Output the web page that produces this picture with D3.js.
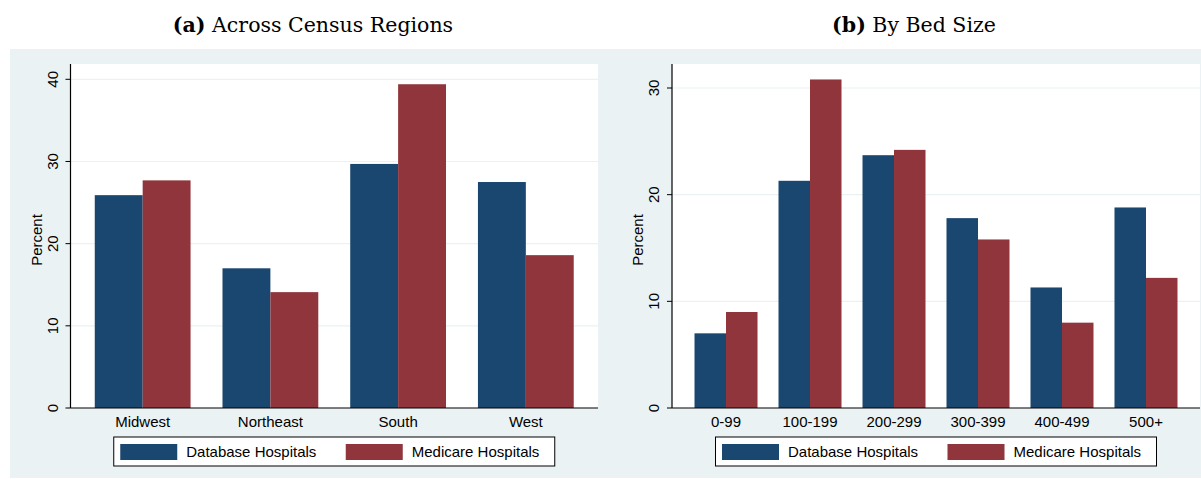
<!DOCTYPE html>
<html>
<head>
<meta charset="utf-8">
<script src="https://cdn.jsdelivr.net/npm/d3@7"></script>
<style>
  body { margin: 0; background: #fff; }
  text { font-family: "Liberation Sans", Arial, sans-serif; fill: #000; }
</style>
</head>
<body>
<div id="chart"></div>
<script>
// data
const regions = ['Midwest', 'Northeast', 'South', 'West'];
const regionDatabase = [25.9, 17.0, 29.7, 27.5];
const regionMedicare = [27.7, 14.1, 39.4, 18.6];

const bedSizes = ['0-99', '100-199', '200-299', '300-399', '400-499', '500+'];
const bedDatabase = [7.0, 21.3, 23.7, 17.8, 11.3, 18.8];
const bedMedicare = [9.0, 30.8, 24.2, 15.8, 8.0, 12.2];

const seriesNames = ['Database Hospitals', 'Medicare Hospitals'];
const regionTicks = [0, 10, 20, 30, 40];
const bedTicks = [0, 10, 20, 30];

const colors = ['#1a476f', '#90353b'];
const bgColor = '#eaf2f3';

const svg = d3.select('#chart').append('svg')
  .attr('width', 1201)
  .attr('height', 479);

function drawPanel(opt) {
  const g = svg.append('g');

  // grey panel background
  g.append('rect')
    .attr('x', opt.panelX0).attr('y', 49)
    .attr('width', opt.panelX1 - opt.panelX0).attr('height', 429)
    .attr('fill', bgColor);

  // title: bold letter + serif text
  const title = g.append('text')
    .attr('x', opt.titleX).attr('y', 32)
    .attr('text-anchor', 'middle')
    .style('font-family', '"DejaVu Serif", "Liberation Serif", serif')
    .style('font-size', '20.5px');
  title.append('tspan').attr('font-weight', 'bold').text(opt.letter);
  title.append('tspan').text(' ' + opt.title);

  const left = opt.plotX0, right = opt.plotX1, top = 64, bottom = 408;

  g.append('rect')
    .attr('x', left).attr('y', top)
    .attr('width', right - left).attr('height', bottom - top)
    .attr('fill', '#fff');

  const y = d3.scaleLinear()
    .domain([0, opt.yMax])
    .range([bottom, opt.yTopPx]);

  const x = d3.scaleBand()
    .domain(opt.categories)
    .range([left, right])
    .paddingInner(0.25)
    .paddingOuter(opt.outer);

  const xs = d3.scaleBand()
    .domain(seriesNames)
    .range([0, x.bandwidth()]);

  // gridlines
  g.selectAll('.grid')
    .data(opt.ticks.filter(d => d > 0))
    .enter().append('line')
    .attr('x1', left).attr('x2', right)
    .attr('y1', d => y(d)).attr('y2', d => y(d))
    .attr('stroke', bgColor).attr('stroke-width', 1.2);

  // bars
  const rows = opt.categories.map((c, i) => ({ cat: c, vals: [opt.s1[i], opt.s2[i]] }));
  const groups = g.selectAll('.grp')
    .data(rows)
    .enter().append('g')
    .attr('transform', d => 'translate(' + x(d.cat) + ',0)');

  groups.selectAll('rect')
    .data(d => d.vals.map((v, j) => ({ name: seriesNames[j], v: v, j: j })))
    .enter().append('rect')
    .attr('x', d => xs(d.name))
    .attr('y', d => y(d.v))
    .attr('width', xs.bandwidth())
    .attr('height', d => bottom - y(d.v))
    .attr('fill', d => colors[d.j]);

  // y axis
  const yAxis = g.append('g')
    .attr('transform', 'translate(' + left + ',0)')
    .call(d3.axisLeft(y).tickValues(opt.ticks).tickSize(5).tickPadding(0).tickFormat(d3.format('d')));
  yAxis.select('.domain').remove();
  yAxis.selectAll('line').attr('stroke', '#000');
  yAxis.selectAll('text')
    .attr('x', 0).attr('dy', null)
    .attr('text-anchor', 'middle')
    .attr('transform', d => 'translate(-13,' + y(d) + ') rotate(-90)')
    .attr('y', 0)
    .style('font-size', '15px')
    .style('font-family', '"Liberation Sans", Arial, sans-serif');
  yAxis.selectAll('.tick').attr('transform', null);
  yAxis.selectAll('.tick line')
    .attr('x2', -5).attr('y1', d => y(d)).attr('y2', d => y(d));

  g.append('line')
    .attr('x1', left).attr('x2', left)
    .attr('y1', top).attr('y2', bottom)
    .attr('stroke', '#000').attr('stroke-width', 1.2);

  // x axis
  const xAxis = g.append('g')
    .attr('transform', 'translate(0,' + bottom + ')')
    .call(d3.axisBottom(x).tickSize(0).tickPadding(0));
  xAxis.select('.domain').remove();
  xAxis.selectAll('text')
    .attr('dy', null).attr('y', 19)
    .style('font-size', '15px')
    .style('font-family', '"Liberation Sans", Arial, sans-serif');

  g.append('line')
    .attr('x1', left).attr('x2', right)
    .attr('y1', bottom).attr('y2', bottom)
    .attr('stroke', '#000').attr('stroke-width', 1.2);

  // y title
  g.append('text')
    .attr('transform', 'translate(' + (left - 29) + ',240) rotate(-90)')
    .attr('text-anchor', 'middle')
    .style('font-size', '15px')
    .text('Percent');

  // legend
  const lx = (left + right) / 2 - 220.5;
  const leg = g.append('g').attr('transform', 'translate(' + lx + ',437)');
  leg.append('rect')
    .attr('width', 441).attr('height', 29)
    .attr('fill', '#fff').attr('stroke', '#000').attr('stroke-width', 1);
  const items = leg.selectAll('.item')
    .data(seriesNames)
    .enter().append('g')
    .attr('transform', (d, i) => 'translate(' + [6.5, 232][i] + ',0)');
  items.append('rect')
    .attr('y', 7).attr('width', 57).attr('height', 16)
    .attr('fill', (d, i) => colors[i]);
  items.append('text')
    .attr('x', 66).attr('y', 20)
    .style('font-size', '15px')
    .text(d => d);
}

drawPanel({
  panelX0: 10, panelX1: 603,
  plotX0: 70.5, plotX1: 598,
  titleX: 313, letter: '(a)', title: 'Across Census Regions',
  categories: regions, s1: regionDatabase, s2: regionMedicare,
  yMax: 40, yTopPx: 79.3, ticks: regionTicks, outer: 0.19
});

drawPanel({
  panelX0: 603, panelX1: 1201,
  plotX0: 672, plotX1: 1200,
  titleX: 914, letter: '(b)', title: 'By Bed Size',
  categories: bedSizes, s1: bedDatabase, s2: bedMedicare,
  yMax: 30, yTopPx: 88, ticks: bedTicks, outer: 0.268
});
</script>
</body>
</html>
